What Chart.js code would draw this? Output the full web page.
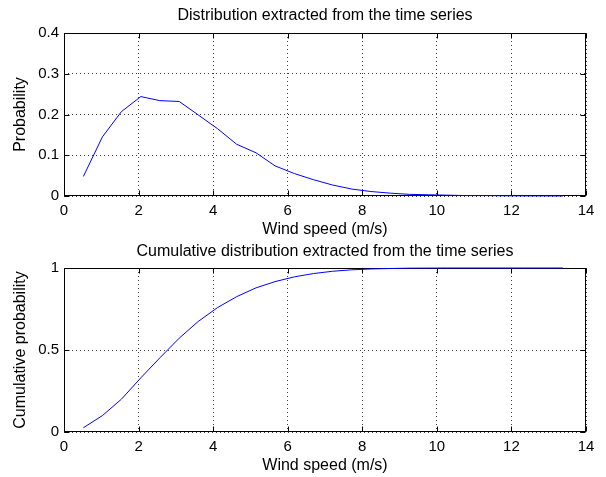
<!DOCTYPE html>
<html>
<head>
<meta charset="utf-8">
<script src="https://cdn.jsdelivr.net/npm/chart.js@4.4.0/dist/chart.umd.min.js"></script>
<style>
    html, body { margin: 0; padding: 0; background: #fff; }
    body { width: 606px; height: 477px; position: relative; overflow: hidden; }
    canvas { position: absolute; left: 0; }
    #pdfChart { top: 0; }
    #cdfChart { top: 236px; }
</style>
</head>
<body>
<canvas id="pdfChart" width="606" height="250"></canvas>
<canvas id="cdfChart" width="606" height="241"></canvas>
<script>
// 数据
const windSpeed = [0.52, 1.03, 1.54, 2.06, 2.57, 3.09, 3.60, 4.12, 4.63, 5.15, 5.66, 6.18, 6.69,
    7.20, 7.72, 8.23, 8.75, 9.26, 9.78, 10.29, 10.81, 11.32, 11.84, 12.35, 12.87, 13.38];
const probability = [0.048, 0.145, 0.207, 0.244, 0.234, 0.232, 0.199, 0.165, 0.127, 0.106, 0.074, 0.055, 0.040,
    0.027, 0.017, 0.011, 0.007, 0.004, 0.003, 0.002, 0.001, 0.001, 0.0005, 0.0003, 0.0002, 0.0001];
const cumulative = [0.026, 0.100, 0.200, 0.330, 0.452, 0.572, 0.674, 0.759, 0.825, 0.879, 0.917, 0.946, 0.966,
    0.980, 0.989, 0.994, 0.997, 0.999, 0.9995, 1, 1, 1, 1, 1, 1, 1];

// 刻度
const xTicks = [0, 2, 4, 6, 8, 10, 12, 14];
const xTickLabels = ['0', '2', '4', '6', '8', '10', '12', '14'];
const pdfTicks = [0, 0.1, 0.2, 0.3, 0.4];
const pdfTickLabels = ['0', '0.1', '0.2', '0.3', '0.4'];
const cdfTicks = [0, 0.5, 1];
const cdfTickLabels = ['0', '0.5', '1'];

const FONT = "'Liberation Sans', Arial, Helvetica, sans-serif";

// 边框 + 向内刻度（MATLAB 风格），画在曲线下面
const boxTicksPlugin = {
    id: 'boxTicks',
    beforeDatasetsDraw(chart) {
        const { ctx, chartArea: a, scales: { x, y } } = chart;
        const len = 5;
        const l = Math.round(a.left) + 0.5, r = Math.round(a.right) - 0.5;
        const t = Math.round(a.top) + 0.5, b = Math.round(a.bottom) - 0.5;
        ctx.save();
        ctx.strokeStyle = '#000';
        ctx.lineWidth = 1;
        ctx.setLineDash([]);
        ctx.beginPath();
        x.ticks.forEach(tk => {
            const px = Math.round(x.getPixelForValue(tk.value)) + 0.5;
            ctx.moveTo(px, b); ctx.lineTo(px, b - len);
            ctx.moveTo(px, t); ctx.lineTo(px, t + len);
        });
        y.ticks.forEach(tk => {
            const py = Math.round(y.getPixelForValue(tk.value)) + 0.5;
            ctx.moveTo(l, py); ctx.lineTo(l + len, py);
            ctx.moveTo(r, py); ctx.lineTo(r - len, py);
        });
        ctx.stroke();
        ctx.strokeRect(l, t, r - l, b - t);
        ctx.restore();
    }
};

function buildChart(id, values, yTicks, yLabels, title, yTitle, lay) {
    const ctx = document.getElementById(id).getContext('2d');
    return new Chart(ctx, {
        type: 'line',
        data: {
            datasets: [{
                data: windSpeed.map((v, i) => ({ x: v, y: values[i] })),
                borderColor: '#0000ff',
                borderWidth: 1,
                pointRadius: 0,
                tension: 0,
                fill: false,
                clip: 2
            }]
        },
        options: {
            responsive: false,
            animation: false,
            layout: { padding: { left: 0, right: 20, top: 0, bottom: 0 } },
            plugins: {
                legend: { display: false },
                tooltip: { enabled: false },
                title: {
                    display: true,
                    fullSize: false,
                    text: title,
                    color: '#000',
                    font: { family: FONT, size: 16, weight: 'normal' },
                    padding: { top: lay.titleTop, bottom: lay.titleBottom }
                }
            },
            scales: {
                x: {
                    type: 'linear',
                    min: 0,
                    max: 14,
                    afterBuildTicks: s => { s.ticks = xTicks.map(v => ({ value: v })); },
                    afterFit: s => { s.height = lay.xHeight; },
                    grid: { color: 'rgba(0,0,0,0.75)', drawTicks: false },
                    border: { display: false, dash: [1, 3] },
                    ticks: {
                        padding: 6,
                        color: '#000',
                        font: { family: FONT, size: 15 },
                        maxRotation: 0,
                        callback: (v, i) => xTickLabels[i]
                    },
                    title: {
                        display: true,
                        text: 'Wind speed (m/s)',
                        color: '#000',
                        font: { family: FONT, size: 16 },
                        padding: { top: 0, bottom: lay.xTitleBottom }
                    }
                },
                y: {
                    type: 'linear',
                    min: 0,
                    max: yTicks[yTicks.length - 1],
                    afterBuildTicks: s => { s.ticks = yTicks.map(v => ({ value: v })); },
                    afterFit: s => { s.width = 64; },
                    grid: { color: 'rgba(0,0,0,0.75)', drawTicks: false },
                    border: { display: false, dash: [1, 3] },
                    ticks: {
                        padding: 5,
                        color: '#000',
                        font: { family: FONT, size: 15 },
                        callback: (v, i) => yLabels[i]
                    },
                    title: {
                        display: true,
                        text: yTitle,
                        color: '#000',
                        font: { family: FONT, size: 16 },
                        padding: { top: lay.yTitleTop, bottom: 0 }
                    }
                }
            }
        },
        plugins: [boxTicksPlugin]
    });
}

buildChart('pdfChart', probability, pdfTicks, pdfTickLabels,
    'Distribution extracted from the time series', 'Probability',
    { titleTop: 6.4, titleBottom: 7.4, xHeight: 54, xTitleBottom: 10.4, yTitleTop: 11.4 });

buildChart('cdfChart', cumulative, cdfTicks, cdfTickLabels,
    'Cumulative distribution extracted from the time series', 'Cumulative probability',
    { titleTop: 6.4, titleBottom: 6.4, xHeight: 45, xTitleBottom: 1.4, yTitleTop: 11.4 });
</script>
</body>
</html>
